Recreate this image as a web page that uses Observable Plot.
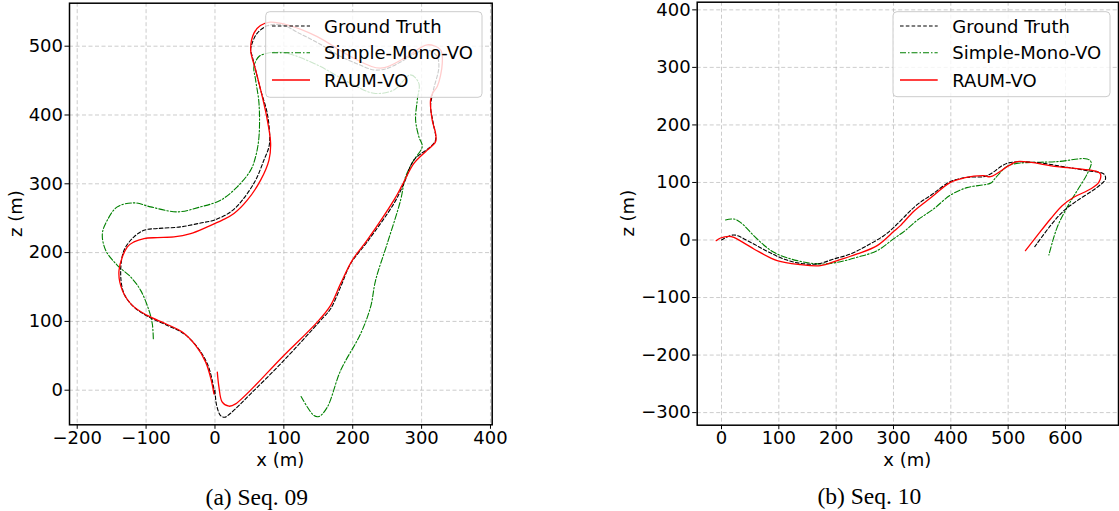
<!DOCTYPE html>
<html>
<head>
<meta charset="utf-8">
<script src="https://cdn.jsdelivr.net/npm/d3@7"></script>
<script src="https://cdn.jsdelivr.net/npm/@observablehq/plot@0.6"></script>
<style>
  html, body { margin: 0; padding: 0; background: #fff; }
  #wrap { position: relative; width: 1119px; height: 511px; overflow: hidden; }
  #wrap svg { position: absolute; top: 0; }
  .cap { position: absolute; font-family: "Liberation Serif", "Times New Roman", serif; font-size: 23.5px; color: #000; transform: translate(-50%, -50%); white-space: nowrap; }
</style>
</head>
<body>
<div id="wrap"></div>
<script>
// ---------- Seq. 09 ----------
const gt09X = [0, 2.4, 8.2, 14, 22.7, 51.8, 100, 153.4, 167.9, 182.4, 196.9, 221, 259.8, 274.3, 288.8, 313, 320.3, 316.9, 313, 315, 318, 325.1, 322, 308.2, 290, 269.5, 248, 230.8, 205, 182.4, 150.9, 121.9, 97.7, 76, 61.4, 54.2, 51.8, 54.2, 59, 66.3, 75.9, 79.5, 78.4, 71.1, 59, 39.7, 22.7, -1.5, -20.8, -49.8, -83.7, -103, -117.6, -132, -136.9, -132, -117.6, -95.8, -69.2, -45, -25.6, -11.1, -3.9, -0.5];
const gt09Z = [0, -22, -37, -39.3, -33.5, -5.3, 43.2, 101.5, 118.4, 150, 184, 215.5, 271.4, 300.5, 334.5, 353.9, 363.6, 387.9, 412, 426.7, 440, 470, 486, 494.7, 489, 477, 467, 465.5, 475, 485, 504, 519, 531, 529.6, 519, 505, 494.7, 485, 465.5, 436.4, 402.4, 368.4, 353.9, 334.5, 305.3, 276.2, 259.2, 247.1, 243, 237.4, 235, 232.5, 222.8, 203.4, 169.4, 140.3, 120.9, 106.3, 94.2, 82, 62.6, 38.3, 14.1, -5.3];

const mono09X = [-89.5, -91, -95.8, -107.9, -122.4, -141.8, -158.7, -163.5, -156.3, -141.8, -117.6, -93.4, -54.7, -20.8, 8.2, 32.4, 51.8, 59, 63.9, 63.9, 59, 56.6, 63.9, 76, 90.5, 105, 148.5, 196.9, 230.8, 259.8, 284, 296, 293.7, 291.3, 296, 300.9, 288.8, 276.7, 269.5, 250.1, 233.2, 225.9, 211.4, 182.4, 163, 150.9, 143.7, 124.3];
const mono09Z = [74.8, 96.6, 116, 145.1, 164.6, 181.6, 203.4, 227.7, 247.1, 266.5, 272.3, 266.5, 259.2, 266.5, 276.2, 295.6, 319.9, 339.3, 368.4, 417, 451, 470.4, 485, 489.8, 491.3, 489.8, 472.8, 446, 431.6, 436.4, 458.3, 446, 421.8, 392.7, 368.4, 353.9, 334.5, 310.2, 276.2, 213.1, 159.7, 120.9, 82, 28.6, -24.8, -38.3, -36.9, -7.8];

const raum09X = [3.4, 5.8, 10.6, 20.3, 30, 100, 148.5, 167.9, 182.4, 199.3, 221, 259.8, 271.9, 288.8, 308.2, 320.3, 320.3, 315.4, 313, 316, 322.7, 330, 327.5, 308.2, 279.1, 240.4, 196.9, 148.5, 105, 80, 66, 56.6, 51.8, 59, 68.7, 76, 80.8, 78.4, 66.3, 46.9, 27.6, 10.6, -11.1, -35.3, -59.5, -83.7, -103, -117.6, -127.2, -139.3, -134.5, -120, -98.2, -71.6, -47.4, -28.1, -13.5, -5.3, -1.5];
const raum09Z = [26.2, 4.4, -17.5, -23.3, -19.9, 50.5, 99, 123.3, 154.9, 188.8, 218, 276.2, 298, 329.6, 349, 361.2, 373.3, 392.7, 421.8, 432, 441.3, 475, 494.7, 502, 485, 468, 485, 514, 531, 535, 530, 519, 494.7, 465.5, 426.7, 392.7, 358.7, 334.5, 305.3, 276.2, 256.8, 247.1, 237.4, 227.7, 222.8, 221.8, 220.4, 215.5, 208.3, 174.3, 145.1, 123.3, 108.7, 96.6, 84.5, 65, 40.8, 14.1, -5.3];

// ---------- Seq. 10 ----------
const gt10X = [0, 21.5, 50.6, 79.7, 108.7, 137.8, 166.9, 196, 225, 254, 283.1, 300.6, 323.8, 341.3, 367, 399.4, 428.5, 457.6, 469.2, 498.3, 544.8, 602.9, 637.8, 666.9, 669.8, 655.2, 620.3, 597.1, 573.8, 546.5];
const gt10Z = [0, 8.7, -4, -19.7, -33, -40.6, -41.7, -33, -24.3, -9.8, 7.5, 22, 45.2, 61.4, 79, 101.5, 108.9, 110.1, 114.7, 133.3, 135, 126.3, 120.5, 114.7, 106, 91.5, 68.3, 50.9, 24.9, -11.6];

const mono10X = [7, 21.5, 33.1, 62.2, 91.3, 132, 172.7, 201.7, 236.6, 271.5, 300, 320, 341, 370, 399.4, 428, 458, 470, 478, 498, 515, 585.5, 637.8, 644.8, 637.8, 620.3, 602.9, 585.5, 571];
const mono10Z = [34.8, 36.5, 30.7, 1.7, -21.4, -35.9, -41.7, -38.8, -30.1, -18.5, 2, 16, 34, 54, 78, 91, 96, 99, 108, 128, 133, 136.2, 140.8, 135, 114.7, 85.7, 56.8, 22, -26.1];

const raum10X = [-9.3, -1.7, 12.8, 21.5, 56.4, 97.1, 137.8, 172.7, 201.7, 236.6, 271.5, 300.6, 312, 335.5, 364.5, 399.4, 422.7, 457.6, 469.2, 501.2, 515.7, 585.5, 655.2, 661, 658.1, 643.6, 614.5, 594.2, 573.8, 550.6, 530.2];
const raum10Z = [-1.2, 3.5, 6.4, 4.6, -15.6, -35.9, -42.9, -44.6, -35.9, -24.3, -9.8, 15, 25, 50, 73, 100.2, 107.8, 111.8, 110.1, 129.2, 136.2, 127.5, 118.8, 114.7, 100.2, 88.6, 74.2, 59.7, 36.5, 7.5, -18.5];

// ---------- ticks & labels ----------
const xTicks09 = [-200, -100, 0, 100, 200, 300, 400];
const zTicks09 = [0, 100, 200, 300, 400, 500];
const xTicks10 = [0, 100, 200, 300, 400, 500, 600];
const zTicks10 = [-300, -200, -100, 0, 100, 200, 300, 400];
const seriesNames = ["Ground Truth", "Simple-Mono-VO", "RAUM-VO"];
const captions = ["(a) Seq. 09", "(b) Seq. 10"];
const xLabel = "x (m)";
const zLabel = "z (m)";

// ---------- styles ----------
const styles = [
  {stroke: "#000000", strokeWidth: 1.1, strokeDasharray: "3.6,2.2"},
  {stroke: "#008000", strokeWidth: 1.1, strokeDasharray: "6,2,1.5,2"},
  {stroke: "#ff0000", strokeWidth: 1.3, strokeDasharray: null}
];
const FONT = "DejaVu Sans";
const FS = "18px";
const fmt = d => d < 0 ? "\u2212" + Math.abs(d) : String(d);
const toRows = (xs, zs) => xs.map((x, i) => ({x, z: zs[i]}));

function panel(o) {
  const series = [toRows(o.gt[0], o.gt[1]), toRows(o.mono[0], o.mono[1]), toRows(o.raum[0], o.raum[1])];
  const marks = [
    Plot.ruleX(o.xTicks, {stroke: "#b0b0b0", strokeOpacity: 0.65, strokeDasharray: "4,2.5", strokeWidth: 1}),
    Plot.ruleY(o.zTicks, {stroke: "#b0b0b0", strokeOpacity: 0.65, strokeDasharray: "4,2.5", strokeWidth: 1})
  ];
  [1, 0, 2].forEach(k => {
    const s = styles[k];
    const opts = {x: "x", y: "z", curve: "catmull-rom", stroke: s.stroke, strokeWidth: s.strokeWidth};
    if (s.strokeDasharray) opts.strokeDasharray = s.strokeDasharray;
    marks.push(Plot.line(series[k], opts));
  });
  marks.push(Plot.frame({stroke: "#000", strokeWidth: 1.5}));
  const svg = Plot.plot({
    width: o.width, height: o.height,
    marginLeft: o.ml, marginRight: o.mr, marginTop: o.mt, marginBottom: o.mb,
    x: {domain: o.xDomain, ticks: o.xTicks, tickSize: 4.5, tickPadding: 2, tickFormat: fmt, label: null},
    y: {domain: o.zDomain, ticks: o.zTicks, tickSize: 4.5, tickPadding: 2, tickFormat: fmt, label: null},
    style: {fontFamily: FONT, fontSize: FS, color: "#000", background: "transparent", overflow: "visible"},
    marks
  });
  svg.style.left = o.left + "px";
  const s = d3.select(svg);
  // axis labels
  const x0 = o.ml, x1 = o.width - o.mr, y0 = o.mt, y1 = o.height - o.mb;
  s.append("text").attr("x", (x0 + x1) / 2).attr("y", 460.5).style("text-anchor", "middle")
    .attr("dominant-baseline", "middle").text(xLabel);
  s.append("text").attr("transform", `translate(${o.zlx},${(y0 + y1) / 2}) rotate(-90)`).style("text-anchor", "middle")
    .attr("dominant-baseline", "middle").text(zLabel);
  // legend
  const g = s.append("g");
  g.append("rect").attr("x", o.lg.x).attr("y", o.lg.y).attr("width", o.lg.w).attr("height", o.lg.h)
    .attr("rx", 4).attr("fill", "#fff").attr("fill-opacity", 0.8).attr("stroke", "#cccccc").attr("stroke-width", 1);
  const rows = [26, 52.7, 80];
  seriesNames.forEach((name, k) => {
    const st = styles[k];
    const ln = g.append("line").attr("x1", o.lg.lx0).attr("x2", o.lg.lx1).attr("y1", rows[k]).attr("y2", rows[k])
      .attr("stroke", st.stroke).attr("stroke-width", st.strokeWidth);
    if (st.strokeDasharray) ln.attr("stroke-dasharray", st.strokeDasharray);
    g.append("text").attr("x", o.lg.tx).attr("y", rows[k]).attr("dominant-baseline", "central")
      .style("text-anchor", "start").attr("fill", "#000").text(name);
  });
  s.selectAll("text").style("font-family", FONT).style("font-size", FS).attr("fill", "#000");
  return svg;
}

const wrap = document.getElementById("wrap");
wrap.appendChild(panel({
  left: 0, width: 520, height: 470, ml: 69, mr: 28.3, mt: 2.7, mb: 45.7,
  xDomain: [-211.2, 402.5], zDomain: [-50.3, 562.5], xTicks: xTicks09, zTicks: zTicks09,
  gt: [gt09X, gt09Z], mono: [mono09X, mono09Z], raum: [raum09X, raum09Z],
  zlx: 17,
  lg: {x: 265.7, y: 11.7, w: 216.3, h: 85.6, lx0: 272, lx1: 310, tx: 324}
}));
wrap.appendChild(panel({
  left: 600, width: 519, height: 470, ml: 96.7, mr: 1, mt: 1.7, mb: 45.3,
  xDomain: [-42.4, 692.5], zDomain: [-321.9, 413.3], xTicks: xTicks10, zTicks: zTicks10,
  gt: [gt10X, gt10Z], mono: [mono10X, mono10Z], raum: [raum10X, raum10Z],
  zlx: 29,
  lg: {x: 293, y: 11.7, w: 217, h: 85, lx0: 300, lx1: 337.7, tx: 352.3}
}));
[[captions[0], 256.8, 496.5], [captions[1], 869.3, 496]].forEach(([t, x, y]) => {
  const d = document.createElement("div");
  d.className = "cap"; d.textContent = t;
  d.style.left = x + "px"; d.style.top = y + "px";
  wrap.appendChild(d);
});
</script>
</body>
</html>
